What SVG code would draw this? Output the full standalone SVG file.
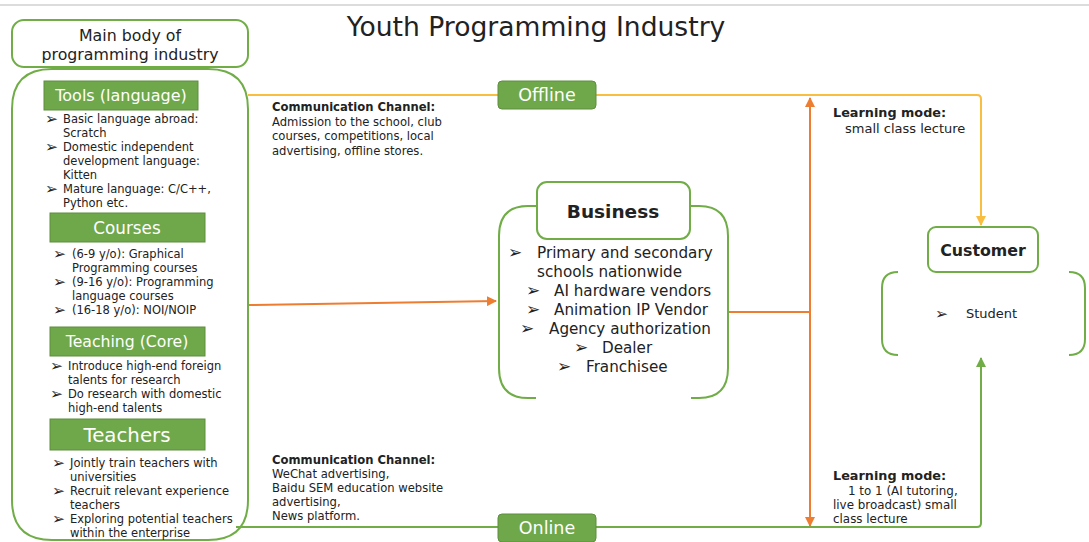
<svg xmlns="http://www.w3.org/2000/svg" width="1089" height="542" viewBox="0 0 1089 542">
  <defs>
    <marker id="arrO" viewBox="0 0 10 10" refX="9" refY="5" markerWidth="5" markerHeight="5" orient="auto">
      <path d="M0,0 L10,5 L0,10 z" fill="#ED7D31"/>
    </marker>
    <marker id="arrY" viewBox="0 0 10 10" refX="9" refY="5" markerWidth="5" markerHeight="5" orient="auto">
      <path d="M0,0 L10,5 L0,10 z" fill="#F9BE3F"/>
    </marker>
    <marker id="arrG" viewBox="0 0 10 10" refX="9" refY="5" markerWidth="5" markerHeight="5" orient="auto">
      <path d="M0,0 L10,5 L0,10 z" fill="#70AD47"/>
    </marker>
  </defs>
  <style>
    text { font-family: "DejaVu Sans", "Open Sans", sans-serif; fill: #222; }
    .frame { fill: #fff; stroke: #70AD47; stroke-width: 2; }
    .bracket { fill: none; stroke: #70AD47; stroke-width: 2; }
    .label { fill: #6FA84A; stroke: #5E8E3E; stroke-width: 1; }
    .labtxt { fill: #fff; text-anchor: middle; }
    .small { font-size: 11.5px; }
    .bul { font-size: 15.5px; font-weight: bold; fill: #222; }
    .bigbul { font-size: 17px; font-weight: bold; fill: #222; }
    .bold { font-weight: bold; }
    .yel { fill: none; stroke: #F9BE3F; stroke-width: 2; }
    .grn { fill: none; stroke: #70AD47; stroke-width: 2; }
    .org { fill: none; stroke: #ED7D31; stroke-width: 2; }
  </style>

  <rect width="1089" height="542" fill="#fff"/>
  <line x1="0" y1="5" x2="1089" y2="5" stroke="#D0D0D0" stroke-width="1.5"/>

  <text x="536" y="36" font-size="26.6" text-anchor="middle">Youth Programming Industry</text>

  <!-- connectors -->
  <g id="connectors">
    <path class="yel" d="M248,95 H498"/>
    <path class="yel" d="M596,95 H977 Q981,95 981,99 V225" marker-end="url(#arrY)"/>
    <path class="grn" d="M236,527 H498"/>
    <path class="grn" d="M596,527 H977 Q981,527 981,523 V358" marker-end="url(#arrG)"/>
    <path class="org" d="M249,305 L496,301" marker-end="url(#arrO)"/>
    <path class="org" d="M728,312 H810"/>
    <path class="org" d="M810,312 V98" marker-end="url(#arrO)"/>
    <path class="org" d="M810,312 V526" marker-end="url(#arrO)"/>
  </g>

  <!-- main body -->
  <g id="main-body">
    <rect class="frame" x="12" y="20" width="236" height="47" rx="12"/>
    <text x="130" y="41" font-size="15.8" text-anchor="middle">Main body of</text>
    <text x="130" y="60" font-size="15.8" text-anchor="middle">programming industry</text>
    <path class="bracket" d="M52,69 H208 Q248,69 248,109 V500 Q248,540 208,540 H52 Q12,540 12,500 V109 Q12,69 52,69 z"/>
  </g>

  <g id="tools">
    <rect class="label" x="44" y="81" width="154" height="29"/>
    <text class="labtxt" x="121" y="101" font-size="16">Tools (language)</text>
    <g class="small">
      <text class="bul" x="45" y="124">➢</text>
      <text x="63" y="123">Basic language abroad:</text>
      <text x="63" y="137">Scratch</text>
      <text class="bul" x="45" y="152">➢</text>
      <text x="63" y="151">Domestic independent</text>
      <text x="63" y="165">development language:</text>
      <text x="63" y="179">Kitten</text>
      <text class="bul" x="45" y="194">➢</text>
      <text x="63" y="193">Mature language: C/C++,</text>
      <text x="63" y="207">Python etc.</text>
    </g>
  </g>

  <g id="courses">
    <rect class="label" x="50" y="213" width="155" height="29"/>
    <text class="labtxt" x="127" y="234" font-size="16.8">Courses</text>
    <g class="small">
      <text class="bul" x="53" y="259">➢</text>
      <text x="72" y="258">(6-9 y/o): Graphical</text>
      <text x="72" y="272">Programming courses</text>
      <text class="bul" x="53" y="287">➢</text>
      <text x="72" y="286">(9-16 y/o): Programming</text>
      <text x="72" y="300">language courses</text>
      <text class="bul" x="53" y="315">➢</text>
      <text x="72" y="314">(16-18 y/o): NOI/NOIP</text>
    </g>
  </g>

  <g id="teaching">
    <rect class="label" x="50" y="327" width="155" height="29"/>
    <text class="labtxt" x="127" y="347" font-size="15.7">Teaching (Core)</text>
    <g class="small">
      <text class="bul" x="50" y="371">➢</text>
      <text x="68" y="370">Introduce high-end foreign</text>
      <text x="68" y="384">talents for research</text>
      <text class="bul" x="50" y="399">➢</text>
      <text x="68" y="398">Do research with domestic</text>
      <text x="68" y="412">high-end talents</text>
    </g>
  </g>

  <g id="teachers">
    <rect class="label" x="50" y="419" width="155" height="31"/>
    <text class="labtxt" x="127" y="442" font-size="19.8">Teachers</text>
    <g class="small">
      <text class="bul" x="52" y="468">➢</text>
      <text x="70" y="467">Jointly train teachers with</text>
      <text x="70" y="481">universities</text>
      <text class="bul" x="52" y="496">➢</text>
      <text x="70" y="495">Recruit relevant experience</text>
      <text x="70" y="509">teachers</text>
      <text class="bul" x="52" y="524">➢</text>
      <text x="70" y="523">Exploring potential teachers</text>
      <text x="70" y="537">within the enterprise</text>
    </g>
  </g>

  <g id="offline-channel">
    <text class="bold" x="272" y="111" font-size="11.6">Communication Channel:</text>
    <text x="272" y="126" font-size="11.6">Admission to the school, club</text>
    <text x="272" y="140" font-size="11.6">courses, competitions, local</text>
    <text x="272" y="155" font-size="11.6">advertising, offline stores.</text>
  </g>

  <g id="offline">
    <rect class="label" x="498" y="81" width="98" height="28" rx="4"/>
    <text class="labtxt" x="547" y="101" font-size="17.5">Offline</text>
  </g>

  <g id="online-channel">
    <text class="bold" x="272" y="464" font-size="11.6">Communication Channel:</text>
    <text x="272" y="478" font-size="11.6">WeChat advertising,</text>
    <text x="272" y="492" font-size="11.6">Baidu SEM education website</text>
    <text x="272" y="506" font-size="11.6">advertising,</text>
    <text x="272" y="520" font-size="11.6">News platform.</text>
  </g>

  <g id="online">
    <rect class="label" x="498" y="514" width="98" height="28" rx="4"/>
    <text class="labtxt" x="547" y="534" font-size="17.5">Online</text>
  </g>

  <g id="business">
    <path class="bracket" d="M537,206 H528 Q499,206 499,236 V368 Q499,398 528,398 H536"/>
    <path class="bracket" d="M690,206 H699 Q728,206 728,236 V368 Q728,398 699,398 H691"/>
    <rect class="frame" x="537" y="182" width="153" height="57" rx="10"/>
    <text x="613" y="218" font-size="18.5" font-weight="bold" text-anchor="middle">Business</text>
    <g font-size="15.2">
      <text class="bigbul" x="508" y="258">➢</text>
      <text x="537" y="258">Primary and secondary</text>
      <text x="537" y="277">schools nationwide</text>
      <text class="bigbul" x="526" y="296">➢</text>
      <text x="554" y="296">AI hardware vendors</text>
      <text class="bigbul" x="526" y="315">➢</text>
      <text x="554" y="315">Animation IP Vendor</text>
      <text class="bigbul" x="520" y="334">➢</text>
      <text x="549" y="334">Agency authorization</text>
      <text class="bigbul" x="574" y="353">➢</text>
      <text x="602" y="353">Dealer</text>
      <text class="bigbul" x="557" y="372">➢</text>
      <text x="586" y="372">Franchisee</text>
    </g>
  </g>

  <g id="learning-offline">
    <text class="bold" x="833" y="117" font-size="12.8">Learning mode:</text>
    <text x="845" y="133" font-size="13">small class lecture</text>
  </g>

  <g id="learning-online">
    <text class="bold" x="833" y="480" font-size="12.8">Learning mode:</text>
    <text x="848" y="495" font-size="11.9">1 to 1 (AI tutoring,</text>
    <text x="833" y="509" font-size="11.9">live broadcast) small</text>
    <text x="833" y="523" font-size="11.9">class lecture</text>
  </g>

  <g id="customer">
    <path class="bracket" d="M898,272 Q882,272 882,288 V339 Q882,355 898,355"/>
    <path class="bracket" d="M1069,272 Q1085,272 1085,288 V339 Q1085,355 1069,355"/>
    <rect class="frame" x="928" y="227" width="110" height="45" rx="8"/>
    <text x="983" y="256" font-size="15.8" font-weight="bold" text-anchor="middle">Customer</text>
    <text class="bul" x="935" y="319">➢</text>
    <text x="966" y="318" font-size="13">Student</text>
  </g>
</svg>
